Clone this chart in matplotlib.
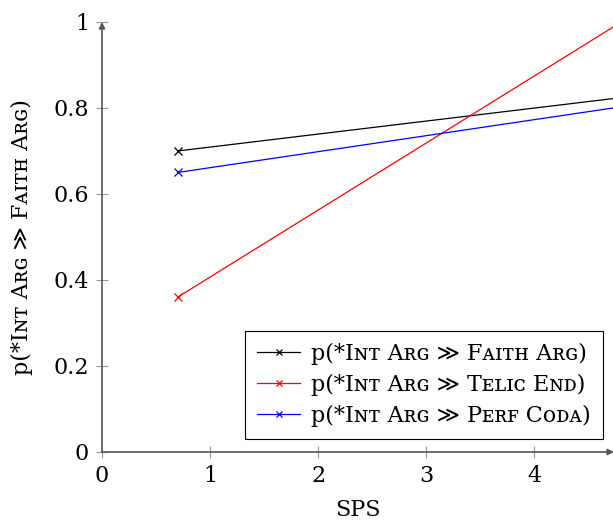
import matplotlib
matplotlib.use("Agg")
import matplotlib.pyplot as plt

plt.rcParams['font.family'] = ['DejaVu Serif', 'DejaVu Sans', 'Noto Sans']
plt.rcParams['mathtext.fontset'] = 'dejavuserif'

# SPS values and fitted probabilities for each constraint ranking
sps = [0.7, 5.0]
faith_arg = [0.70, 0.83]
telic_end = [0.36, 1.03]
perf_coda = [0.65, 0.81]

series_labels = [
    "p(*Iɴᴛ Aʀɢ ≫ Fᴀɪᴛʜ Aʀɢ)",
    "p(*Iɴᴛ Aʀɢ ≫ Tᴇʟɪᴄ Eɴᴅ)",
    "p(*Iɴᴛ Aʀɢ ≫ Pᴇʀꜰ Cᴏᴅᴀ)",
]
series_colors = ["black", "red", "blue"]

xticks = [0, 1, 2, 3, 4]
xtick_labels = ["0", "1", "2", "3", "4"]
yticks = [0, 0.2, 0.4, 0.6, 0.8, 1.0]
ytick_labels = ["0", "0.2", "0.4", "0.6", "0.8", "1"]

FS = 16

fig = plt.figure(figsize=(6.13, 5.22), dpi=100)
ax = fig.add_axes([0.1664, 0.1341, 0.8336, 0.8238])

for ys, lab, col in zip([faith_arg, telic_end, perf_coda], series_labels, series_colors):
    ax.plot(sps, ys, color=col, lw=0.9, marker='x', markersize=6,
            markeredgewidth=0.9, label=lab)

ax.set_xlim(0, 4.73)
ax.set_ylim(0, 1)

for s in ax.spines.values():
    s.set_visible(False)

axis_col = '#555555'
ax.annotate('', xy=(0, 1), xytext=(0, 0), xycoords='data',
            arrowprops=dict(arrowstyle='-|>', color=axis_col, lw=1.2,
                            shrinkA=0, shrinkB=0, mutation_scale=9),
            annotation_clip=False, zorder=5)
ax.annotate('', xy=(4.74, 0), xytext=(0, 0), xycoords='data',
            arrowprops=dict(arrowstyle='-|>', color=axis_col, lw=1.2,
                            shrinkA=0, shrinkB=0, mutation_scale=9),
            annotation_clip=False, zorder=5)

ax.set_xticks(xticks)
ax.set_xticklabels(xtick_labels)
ax.set_yticks(yticks)
ax.set_yticklabels(ytick_labels)
ax.tick_params(direction='inout', length=8.6, width=0.8, color='#999999',
               labelsize=FS, pad=5)

ax.set_xlabel("SPS", fontsize=FS, labelpad=9)
ax.set_ylabel(series_labels[0], fontsize=FS, labelpad=15)

leg = ax.legend(loc='lower right', bbox_to_anchor=(0.98, 0.03), fontsize=FS,
                frameon=True, fancybox=False, framealpha=1, edgecolor='black',
                handlelength=1.9, handletextpad=0.5, labelspacing=0.4,
                borderpad=0.55, borderaxespad=0, markerscale=0.7)
leg.get_frame().set_linewidth(0.8)

fig.savefig("out.png", dpi=100)
